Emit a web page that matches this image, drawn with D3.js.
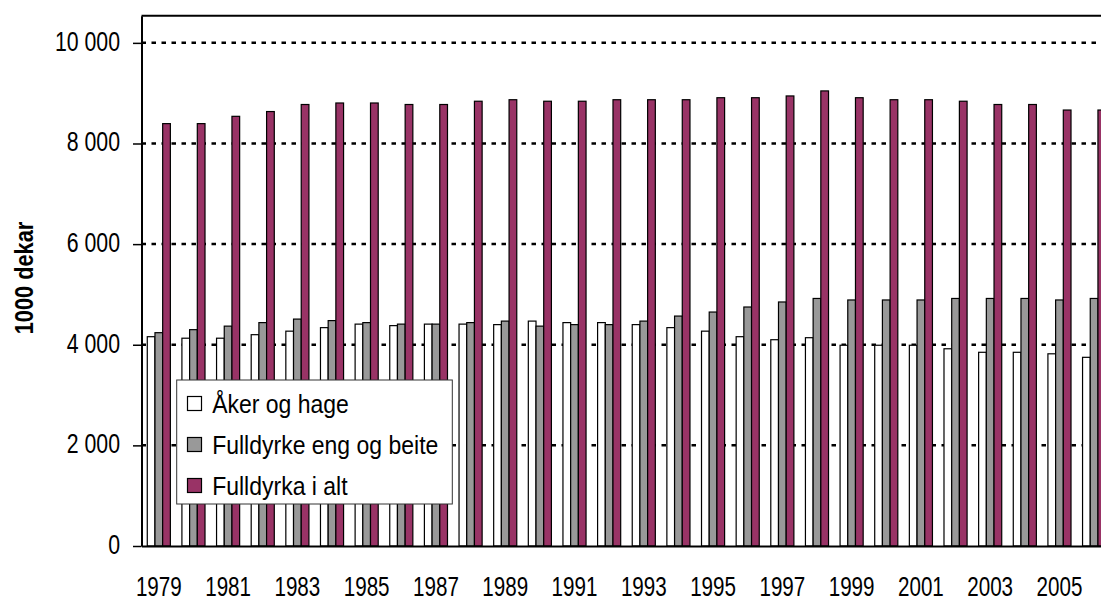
<!DOCTYPE html>
<html>
<head>
<meta charset="utf-8">
<script src="https://cdn.jsdelivr.net/npm/d3@7"></script>
<style>
    body { margin: 0; background: #fff; }
    svg { display: block; font-family: Arial, "Liberation Sans", sans-serif; }
</style>
</head>
<body>
<div id="chart"></div>
<script>
// data (1000 dekar)
var years = [1979, 1980, 1981, 1982, 1983, 1984, 1985, 1986, 1987, 1988, 1989, 1990, 1991, 1992,
    1993, 1994, 1995, 1996, 1997, 1998, 1999, 2000, 2001, 2002, 2003, 2004, 2005, 2006];
var akerOgHage = [4160, 4130, 4130, 4200, 4270, 4340, 4410, 4380, 4410, 4410, 4400, 4470, 4440, 4440,
    4400, 4340, 4270, 4160, 4100, 4140, 3990, 3990, 3990, 3920, 3850, 3850, 3820, 3750];
var fulldyrkeEng = [4240, 4300, 4370, 4440, 4510, 4480, 4440, 4410, 4410, 4440, 4470, 4370, 4400, 4400,
    4470, 4570, 4650, 4750, 4850, 4920, 4890, 4890, 4890, 4920, 4920, 4920, 4890, 4920];
var fulldyrkaIAlt = [8395, 8395, 8540, 8635, 8775, 8805, 8805, 8775, 8775, 8840, 8870, 8840, 8840, 8870,
    8870, 8870, 8910, 8910, 8945, 9045, 8910, 8870, 8870, 8840, 8775, 8775, 8665, 8665];
var seriesNames = ["Åker og hage", "Fulldyrke eng og beite", "Fulldyrka i alt"];
var seriesColors = ["#ffffff", "#999999", "#993366"];
var yTicks = [0, 2000, 4000, 6000, 8000, 10000];
var xTickYears = [1979, 1981, 1983, 1985, 1987, 1989, 1991, 1993, 1995, 1997, 1999, 2001, 2003, 2005];

var width = 1101, height = 597;
var yMax = 10540;

var rows = years.map(function(y, i) {
    return { year: y, values: [akerOgHage[i], fulldyrkeEng[i], fulldyrkaIAlt[i]] };
});

var svg = d3.select("#chart").append("svg")
    .attr("width", width)
    .attr("height", height);

var step = 34.64;
var xScale = d3.scaleBand()
    .domain(years)
    .range([141.5, 141.5 + step * years.length])
    .padding(0);
var xSub = d3.scaleBand()
    .domain([0, 1, 2])
    .range([xScale.bandwidth() / 6, xScale.bandwidth() * 5 / 6])
    .padding(0);
var yScale = d3.scaleLinear()
    .domain([0, yMax])
    .range([546, 15.7]);

var fmt = d3.formatLocale({ decimal: ",", thousands: " ", grouping: [3], currency: ["", ""] }).format(",d");

// gridlines
svg.append("g")
    .selectAll("line")
    .data(yTicks.filter(function(d) { return d > 0; }))
    .enter()
    .append("line")
    .attr("x1", xScale.range()[0])
    .attr("x2", xScale.range()[1])
    .attr("y1", function(d) { return yScale(d); })
    .attr("y2", function(d) { return yScale(d); })
    .attr("stroke", "#000")
    .attr("stroke-width", 2.5)
    .attr("stroke-dasharray", "4.5,5.5");

// bars
var groups = svg.append("g")
    .selectAll("g")
    .data(rows)
    .enter()
    .append("g")
    .attr("transform", function(d) { return "translate(" + xScale(d.year) + ",0)"; });

groups.selectAll("rect")
    .data(function(d) { return d.values; })
    .enter()
    .append("rect")
    .attr("x", function(d, i) { return xSub(i); })
    .attr("width", xSub.bandwidth())
    .attr("y", function(d) { return yScale(d); })
    .attr("height", function(d) { return yScale(0) - yScale(d); })
    .attr("fill", function(d, i) { return seriesColors[i]; })
    .attr("stroke", "#000")
    .attr("stroke-width", 1.2);

// top border of plot
svg.append("line")
    .attr("x1", xScale.range()[0])
    .attr("x2", xScale.range()[1])
    .attr("y1", yScale(yMax))
    .attr("y2", yScale(yMax))
    .attr("stroke", "#000")
    .attr("stroke-width", 2);

// y axis
var yAxis = d3.axisLeft(yScale)
    .tickValues(yTicks)
    .tickSize(8.5)
    .tickSizeOuter(0)
    .tickFormat(fmt);
var gy = svg.append("g")
    .attr("transform", "translate(" + xScale.range()[0] + ",0)")
    .call(yAxis);
gy.select(".domain").attr("stroke", "#000").attr("stroke-width", 2);
gy.selectAll(".tick line").attr("stroke", "#000").attr("stroke-width", 1.5);
gy.selectAll(".tick text")
    .attr("x", -21.5)
    .attr("y", 0)
    .attr("dy", 5.6)
    .attr("transform", "scale(1,1.3)")
    .attr("fill", "#000")
    .style("font-size", "21.3px")
    .style("font-family", "Arial, 'Liberation Sans', sans-serif");

// x axis
var xAxis = d3.axisBottom(xScale)
    .tickValues(xTickYears)
    .tickSize(0)
    .tickSizeOuter(0);
var gx = svg.append("g")
    .attr("transform", "translate(0," + yScale(0) + ")")
    .call(xAxis);
gx.select(".domain").attr("stroke", "#000").attr("stroke-width", 2);
gx.selectAll(".tick text")
    .attr("y", 38.1)
    .attr("dy", 0)
    .attr("transform", "scale(1,1.3)")
    .attr("fill", "#000")
    .style("font-size", "20.6px")
    .style("font-family", "Arial, 'Liberation Sans', sans-serif");

// y title
svg.append("text")
    .attr("transform", "translate(24,278) rotate(-90) scale(1,1.15)")
    .attr("text-anchor", "middle")
    .attr("dy", "0.36em")
    .style("font-size", "21.8px")
    .style("font-weight", "bold")
    .text("1000 dekar");

// legend
var legend = svg.append("g").attr("transform", "translate(176.7,380)");
legend.append("rect")
    .attr("width", 275.6)
    .attr("height", 124)
    .attr("fill", "#fff")
    .attr("stroke", "#333")
    .attr("stroke-width", 1);

var items = legend.selectAll("g.item")
    .data(seriesNames)
    .enter()
    .append("g")
    .attr("class", "item")
    .attr("transform", function(d, i) { return "translate(0," + (23.5 + i * 41) + ")"; });
items.append("rect")
    .attr("x", 10.8)
    .attr("y", -7)
    .attr("width", 14)
    .attr("height", 14)
    .attr("fill", function(d, i) { return seriesColors[i]; })
    .attr("stroke", "#000")
    .attr("stroke-width", 1.2);
items.append("text")
    .attr("transform", "translate(35.5,9) scale(1,1.1)")
    .style("font-size", "23px")
    .text(function(d) { return d; });
</script>
</body>
</html>
